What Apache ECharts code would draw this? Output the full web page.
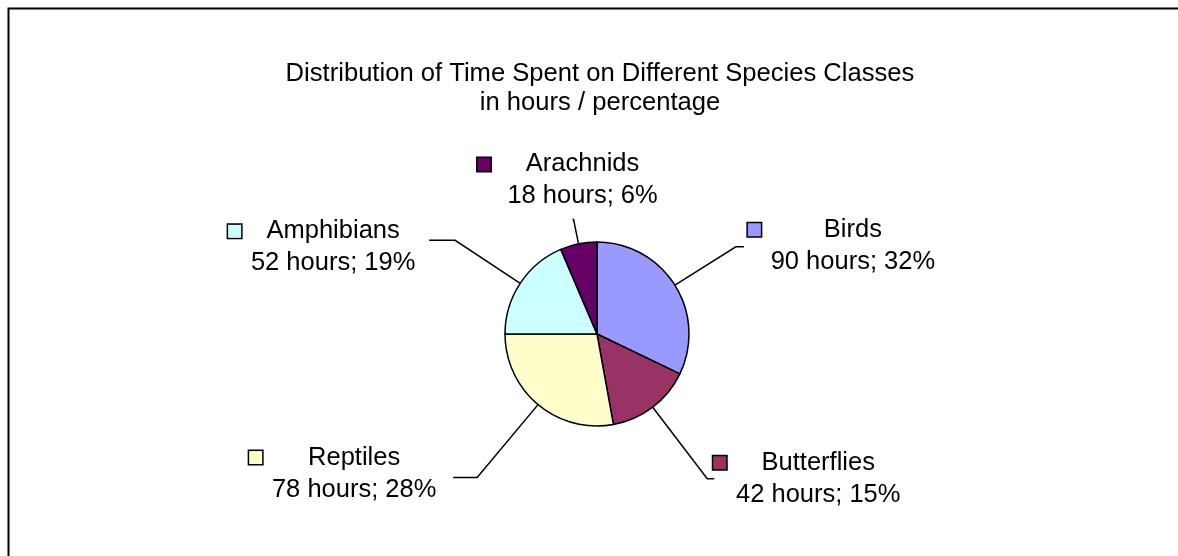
<!DOCTYPE html>
<html>
<head>
<meta charset="utf-8">
<title>Distribution of Time Spent on Different Species Classes</title>
<script src="https://cdn.jsdelivr.net/npm/echarts@6.0.0/dist/echarts.min.js"></script>
<style>
  html, body { margin: 0; padding: 0; background: #fff; }
  #chart { width: 1178px; height: 556px; }
</style>
</head>
<body>
<div id="chart"></div>
<script>
// data
const categories = ['Birds', 'Butterflies', 'Reptiles', 'Amphibians', 'Arachnids']
const hours = [90, 42, 78, 52, 18]
const titleLines = ['Distribution of Time Spent on Different Species Classes', 'in hours / percentage']

// styling / layout
const colors = ['#9999FF', '#993366', '#FFFFCC', '#CCFFFF', '#660066']
const lineLen = [72, 90, 95, 78, 25]
const lineLen2 = [8, 7, 24, 26, 1]
const labelSide = ['right', 'right', 'left', 'left', 'top']
const labelDx = [4, -1, -14, -11, 0]
const labelDy = [-1, 0, -4, 7, -7]
const FONT = '"Liberation Sans", Arial, sans-serif'
const FS = 25.5
const TEXT_W = 170

const rich = {
  g: { width: 7, lineHeight: 32 },
  sp: { width: 20, lineHeight: 32 },
  n: { width: TEXT_W, align: 'center', lineHeight: 32, fontSize: FS, fontFamily: FONT, color: '#000' },
  v: { width: TEXT_W, align: 'center', lineHeight: 32, fontSize: FS, fontFamily: FONT, color: '#000' }
}
colors.forEach((c, i) => {
  rich['sq' + i] = { width: 13, height: 13, backgroundColor: c, borderColor: '#000', borderWidth: 1.5, lineHeight: 32 }
})

const chart = echarts.init(document.getElementById('chart'))

chart.setOption({
  animation: false,
  backgroundColor: '#fff',
  title: {
    text: titleLines.join('\n'),
    left: 595,
    textAlign: 'center',
    top: 54,
    textStyle: { fontFamily: FONT, fontSize: 25.6, fontWeight: 'normal', color: '#000', lineHeight: 29 }
  },
  graphic: [{
    type: 'rect',
    shape: { x: 8.5, y: 8.5, width: 1200, height: 600 },
    style: { fill: 'none', stroke: '#000', lineWidth: 2 },
    silent: true
  }],
  series: [{
    type: 'pie',
    center: [597, 334],
    radius: 92,
    startAngle: 90,
    clockwise: true,
    avoidLabelOverlap: false,
    percentPrecision: 0,
    emphasis: { disabled: true },
    itemStyle: { borderColor: '#000', borderWidth: 1.5 },
    label: {
      show: true,
      position: 'outside',
      formatter: p => `{sq${p.dataIndex}|}{g|}{n|${p.name}}\n{sp|}{v|${p.value} hours; ${p.percent}%}`,
      rich: rich
    },
    labelLine: {
      show: true,
      lineStyle: { color: '#000', width: 1.5 }
    },
    // 标签贴在引导线末端
    labelLayout: params => {
      const pts = params.labelLinePoints
      if (!pts) return {}
      const i = params.dataIndex
      const end = pts[pts.length - 1]
      const side = labelSide[i]
      const x = end[0] + labelDx[i]
      const y = end[1] + labelDy[i]
      if (side === 'right') {
        return { x, y, align: 'left', verticalAlign: 'middle', labelLinePoints: pts }
      } else if (side === 'left') {
        return { x, y, align: 'right', verticalAlign: 'middle', labelLinePoints: pts }
      }
      return { x, y, align: 'center', verticalAlign: 'bottom', labelLinePoints: pts }
    },
    data: categories.map((name, i) => ({
      name: name,
      value: hours[i],
      itemStyle: { color: colors[i] },
      labelLine: { length: lineLen[i], length2: lineLen2[i] }
    }))
  }]
})
</script>
</body>
</html>
